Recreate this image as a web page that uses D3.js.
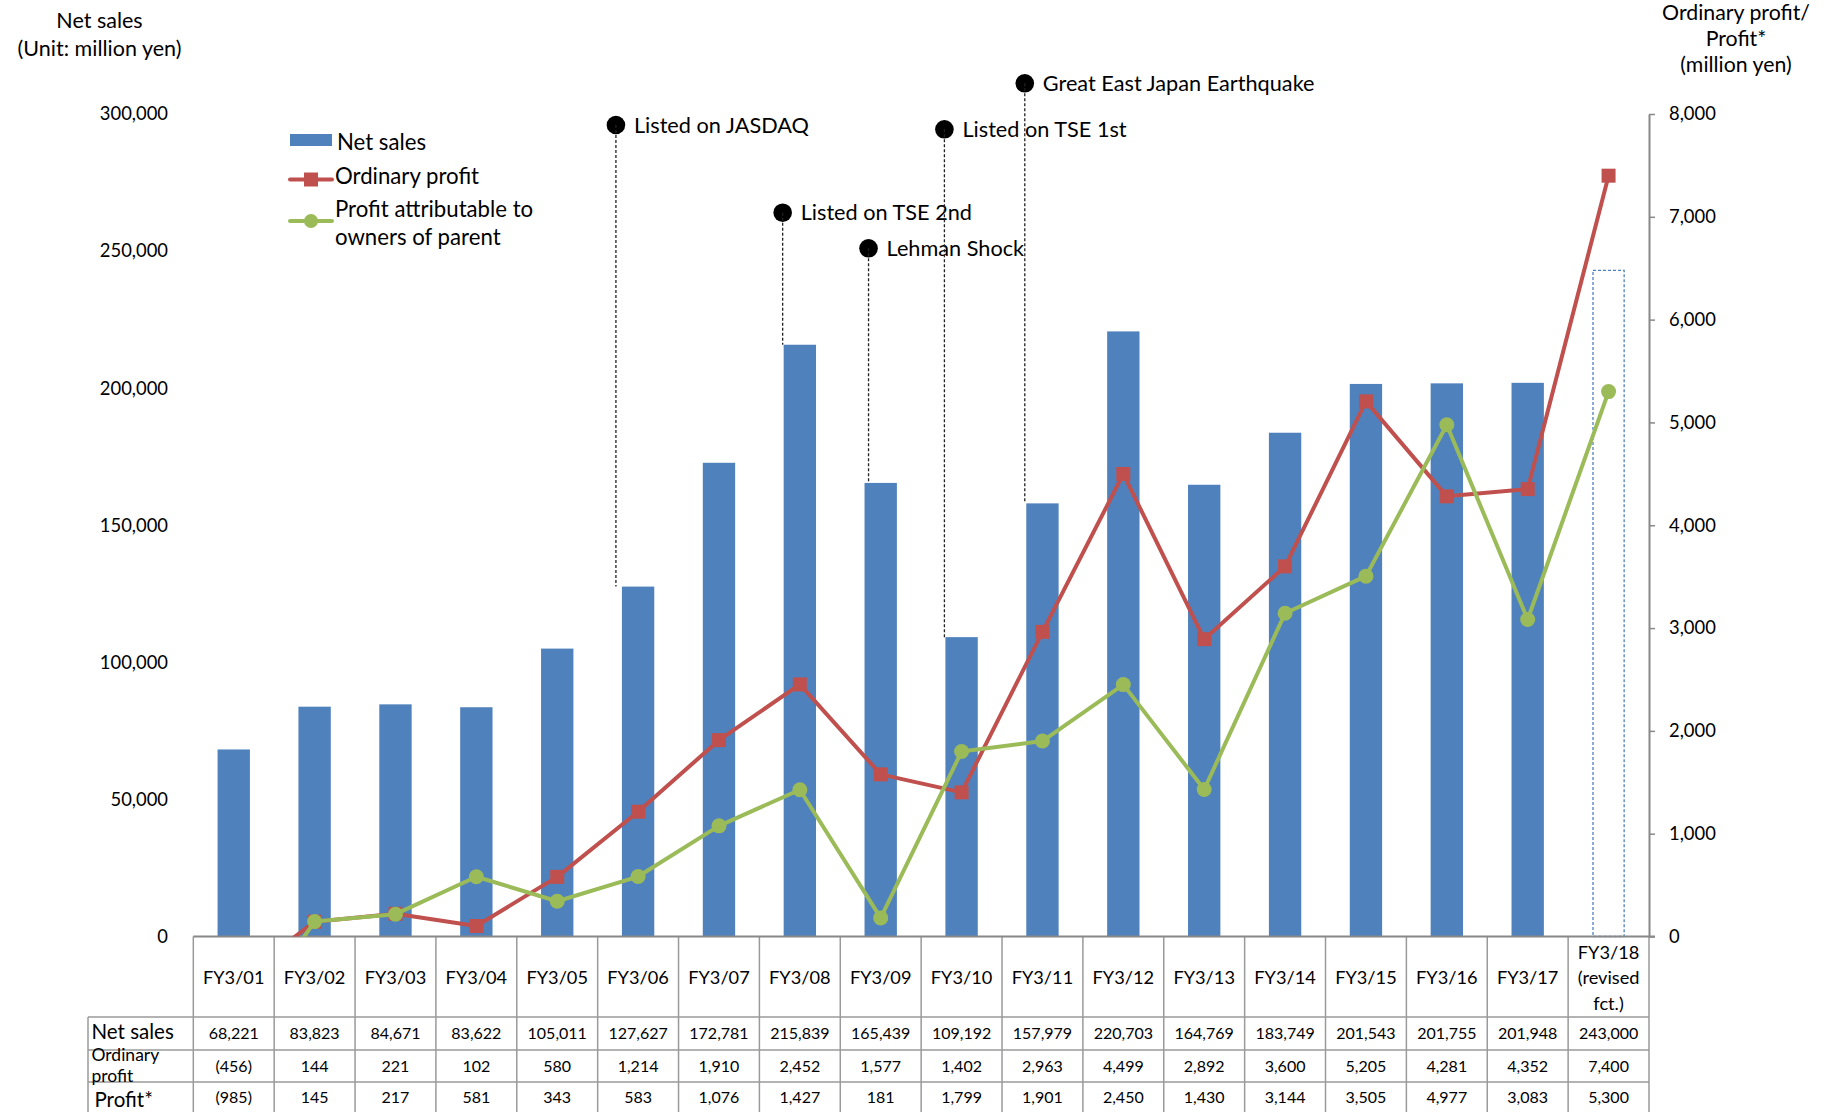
<!DOCTYPE html>
<html>
<head>
<meta charset="utf-8">
<script src="https://cdn.jsdelivr.net/npm/d3@7"></script>
<style>
  html, body { margin: 0; padding: 0; background: #fff; }
  svg { display: block; font-family: Lato, "Open Sans", sans-serif; }
</style>
</head>
<body>
<svg id="chart" width="1828" height="1112"></svg>
<script>
// ---------------- DATA ----------------
const categories = ["FY3/01","FY3/02","FY3/03","FY3/04","FY3/05","FY3/06","FY3/07","FY3/08","FY3/09",
  "FY3/10","FY3/11","FY3/12","FY3/13","FY3/14","FY3/15","FY3/16","FY3/17","FY3/18\n(revised\nfct.)"];
const netSales = [68221,83823,84671,83622,105011,127627,172781,215839,165439,109192,157979,220703,164769,183749,201543,201755,201948,243000];
const ordinaryProfit = [-456,144,221,102,580,1214,1910,2452,1577,1402,2963,4499,2892,3600,5205,4281,4352,7400];
const profit = [-985,145,217,581,343,583,1076,1427,181,1799,1901,2450,1430,3144,3505,4977,3083,5300];
const forecastFlags = [false,false,false,false,false,false,false,false,false,false,false,false,false,false,false,false,false,true];
const leftTicks = [0,50000,100000,150000,200000,250000,300000];
const rightTicks = [0,1000,2000,3000,4000,5000,6000,7000,8000];
const events = [
  {label: "Listed on JASDAQ", category: "FY3/06"},
  {label: "Listed on TSE 2nd", category: "FY3/08"},
  {label: "Lehman Shock", category: "FY3/09"},
  {label: "Listed on TSE 1st", category: "FY3/10"},
  {label: "Great East Japan Earthquake", category: "FY3/11"}
];
const rowLabels = ["Net sales", "Ordinary\nprofit", "Profit*"];
const legendLabels = ["Net sales", "Ordinary profit", "Profit attributable to\nowners of parent"];

// ---------------- LAYOUT ----------------
const L = { left: 193.3, right: 1649, top: 114, bottom: 936.5,
  tableLeft: 88, headerBottom: 1017, rowBottoms: [1050, 1082], tableBottom: 1112 };
const eventDotY = [125, 212.7, 248.3, 129.3, 83.3];
const eventDx = [-6, -1, 4, -1, -1.5];
const C = { blue: "#4F81BD", red: "#C0504D", green: "#9BBB59", axis: "#888888", grid: "#9a9a9a", text: "#000" };

const fmt = d => d < 0 ? "(" + d3.format(",")(-d) + ")" : d3.format(",")(d);

const svg = d3.select("#chart");

const x = d3.scaleBand().domain(categories).range([L.left, L.right]).paddingInner(0.6).paddingOuter(0.3);
const step = x.step(), bw = x.bandwidth();
const cx = c => x(c) + bw / 2;
const colLeft = c => x(c) - (step - bw) / 2;
const yL = d3.scaleLinear().domain([0, 300000]).range([L.bottom, L.top]);
const yR = d3.scaleLinear().domain([0, 8000]).range([L.bottom, L.top]);

// ---------------- AXIS TITLES ----------------
function multiText(g, lines, xPos, yStart, lh, size, anchor) {
  const t = g.append("text").attr("text-anchor", anchor).attr("font-size", size).attr("fill", C.text);
  lines.forEach((ln, i) => t.append("tspan").attr("x", xPos).attr("y", yStart + i * lh).attr("dy", "0.35em").text(ln));
  return t;
}
multiText(svg, ["Net sales", "(Unit: million yen)"], 99.5, 20.5, 27.8, 21.5, "middle");
multiText(svg, ["Ordinary profit/", "Profit*", "(million yen)"], 1736, 13, 26, 21.3, "middle");

// ---------------- AXES ----------------
const gLeft = svg.append("g").attr("transform", `translate(168,0)`)
  .call(d3.axisLeft(yL).tickValues(leftTicks).tickSize(0).tickPadding(0).tickFormat(d3.format(",")));
gLeft.select(".domain").remove();
gLeft.selectAll("text").attr("font-size", 18.4).attr("font-family", "Lato").attr("fill", C.text);

const gRight = svg.append("g").attr("transform", `translate(${L.right},0)`)
  .call(d3.axisRight(yR).tickValues(rightTicks).tickSize(6).tickSizeOuter(0).tickPadding(14).tickFormat(d3.format(",")));
gRight.select(".domain").attr("stroke", C.axis).attr("stroke-width", 2);
gRight.selectAll(".tick line").attr("stroke", C.axis).attr("stroke-width", 1.5);
gRight.selectAll("text").attr("font-size", 18.4).attr("font-family", "Lato").attr("fill", C.text);

// ---------------- BARS ----------------
const barData = categories.map((c, i) => ({c, v: netSales[i], f: forecastFlags[i]}));
svg.append("g").selectAll("rect.bar").data(barData.filter(d => !d.f)).join("rect")
  .attr("class", "bar")
  .attr("x", d => x(d.c)).attr("width", bw)
  .attr("y", d => yL(d.v)).attr("height", d => yL(0) - yL(d.v))
  .attr("fill", C.blue);
svg.append("g").selectAll("rect.fc").data(barData.filter(d => d.f)).join("rect")
  .attr("class", "fc")
  .attr("x", d => x(d.c) + 0.6).attr("width", bw - 1.2)
  .attr("y", d => yL(d.v)).attr("height", d => yL(0) - yL(d.v))
  .attr("fill", "none").attr("stroke", C.blue).attr("stroke-width", 1.3).attr("stroke-dasharray", "3,2");

// ---------------- X AXIS LINE + TABLE ----------------
const tbl = svg.append("g");
const boundaries = categories.map(c => colLeft(c)).concat([L.right]);
tbl.selectAll("line.v").data(boundaries).join("line")
  .attr("x1", d => d).attr("x2", d => d).attr("y1", L.bottom).attr("y2", L.tableBottom)
  .attr("stroke", C.grid).attr("stroke-width", 1.5);
tbl.append("line").attr("x1", L.tableLeft).attr("x2", L.tableLeft).attr("y1", L.headerBottom).attr("y2", L.tableBottom)
  .attr("stroke", C.grid).attr("stroke-width", 1.5);
tbl.selectAll("line.h").data([L.headerBottom].concat(L.rowBottoms)).join("line")
  .attr("x1", L.tableLeft).attr("x2", L.right).attr("y1", d => d).attr("y2", d => d)
  .attr("stroke", C.grid).attr("stroke-width", 1.5);
svg.append("line").attr("x1", L.left).attr("x2", L.right + 6).attr("y1", L.bottom).attr("y2", L.bottom)
  .attr("stroke", C.axis).attr("stroke-width", 2);

// header labels
categories.forEach(c => {
  const lines = c.split("\n");
  const lh = 25.5;
  const mid = (L.bottom + L.headerBottom) / 2 + 1;
  multiText(tbl, lines, cx(c), mid - (lines.length - 1) * lh / 2, lh, 18.2, "middle");
});
// row values
const rowSeries = [netSales, ordinaryProfit, profit];
const rowCenters = [1033.5, 1066, 1097.5];
rowSeries.forEach((series, r) => {
  tbl.append("g").selectAll("text").data(series).join("text")
    .attr("x", (d, i) => cx(categories[i])).attr("y", rowCenters[r]).attr("dy", "0.35em")
    .attr("text-anchor", "middle").attr("font-size", 16).attr("fill", C.text)
    .text(d => fmt(d));
});
// row labels
multiText(tbl, rowLabels[0].split("\n"), 91.5, 1032, 0, 20.5, "start");
multiText(tbl, rowLabels[1].split("\n"), 91.5, 1055, 21, 17.5, "start");
multiText(tbl, rowLabels[2].split("\n"), 94.5, 1099.5, 0, 20.5, "start");

// ---------------- LINES ----------------
svg.append("clipPath").attr("id", "plotClip").append("rect")
  .attr("x", L.left).attr("y", 0).attr("width", L.right - L.left + 20).attr("height", L.bottom - 0);
const gLines = svg.append("g").attr("clip-path", "url(#plotClip)");
const line = d3.line().x(d => cx(d.c)).y(d => yR(d.v));
const redData = categories.map((c, i) => ({c, v: ordinaryProfit[i]}));
const greenData = categories.map((c, i) => ({c, v: profit[i]}));
gLines.append("path").datum(redData).attr("d", line).attr("fill", "none")
  .attr("stroke", C.red).attr("stroke-width", 4).attr("stroke-linejoin", "round");
const sq = 14;
gLines.selectAll("rect.m").data(redData).join("rect").attr("class", "m")
  .attr("x", d => cx(d.c) - sq / 2).attr("y", d => yR(d.v) - sq / 2).attr("width", sq).attr("height", sq)
  .attr("fill", C.red);
gLines.append("path").datum(greenData).attr("d", line).attr("fill", "none")
  .attr("stroke", C.green).attr("stroke-width", 4).attr("stroke-linejoin", "round");
gLines.selectAll("circle.m").data(greenData).join("circle").attr("class", "m")
  .attr("cx", d => cx(d.c)).attr("cy", d => yR(d.v)).attr("r", 7.5)
  .attr("fill", C.green);

// ---------------- EVENTS ----------------
const gEv = svg.append("g");
events.forEach((e, i) => {
  const i0 = categories.indexOf(e.category);
  const ex = x(e.category) + eventDx[i];
  const ey = eventDotY[i];
  gEv.append("circle").attr("cx", ex).attr("cy", ey).attr("r", 9.3).attr("fill", "#000");
  gEv.append("text").attr("x", ex + 18).attr("y", ey).attr("dy", "0.35em").attr("font-size", 21.7)
    .attr("fill", C.text).text(e.label);
  gEv.append("line").attr("x1", ex).attr("x2", ex).attr("y1", ey).attr("y2", yL(netSales[i0]))
    .attr("stroke", "#222").attr("stroke-width", 1.3).attr("stroke-dasharray", "3,2");
});

// ---------------- LEGEND ----------------
const gLeg = svg.append("g");
const legFont = 22.2;
gLeg.append("rect").attr("x", 290).attr("y", 134).attr("width", 42).attr("height", 12).attr("fill", C.blue);
gLeg.append("text").attr("x", 337).attr("y", 142.5).attr("dy", "0.35em").attr("font-size", legFont).text(legendLabels[0]);
gLeg.append("line").attr("x1", 290).attr("x2", 332).attr("y1", 179.5).attr("y2", 179.5)
  .attr("stroke", C.red).attr("stroke-width", 4).attr("stroke-linecap", "round");
gLeg.append("rect").attr("x", 311 - 7).attr("y", 179.5 - 7).attr("width", 14).attr("height", 14).attr("fill", C.red);
gLeg.append("text").attr("x", 335).attr("y", 176.5).attr("dy", "0.35em").attr("font-size", legFont).text(legendLabels[1]);
gLeg.append("line").attr("x1", 290).attr("x2", 332).attr("y1", 221).attr("y2", 221)
  .attr("stroke", C.green).attr("stroke-width", 4).attr("stroke-linecap", "round");
gLeg.append("circle").attr("cx", 311).attr("cy", 221).attr("r", 7).attr("fill", C.green);
multiText(gLeg, legendLabels[2].split("\n"), 335, 209, 28, legFont, "start");
</script>
</body>
</html>
